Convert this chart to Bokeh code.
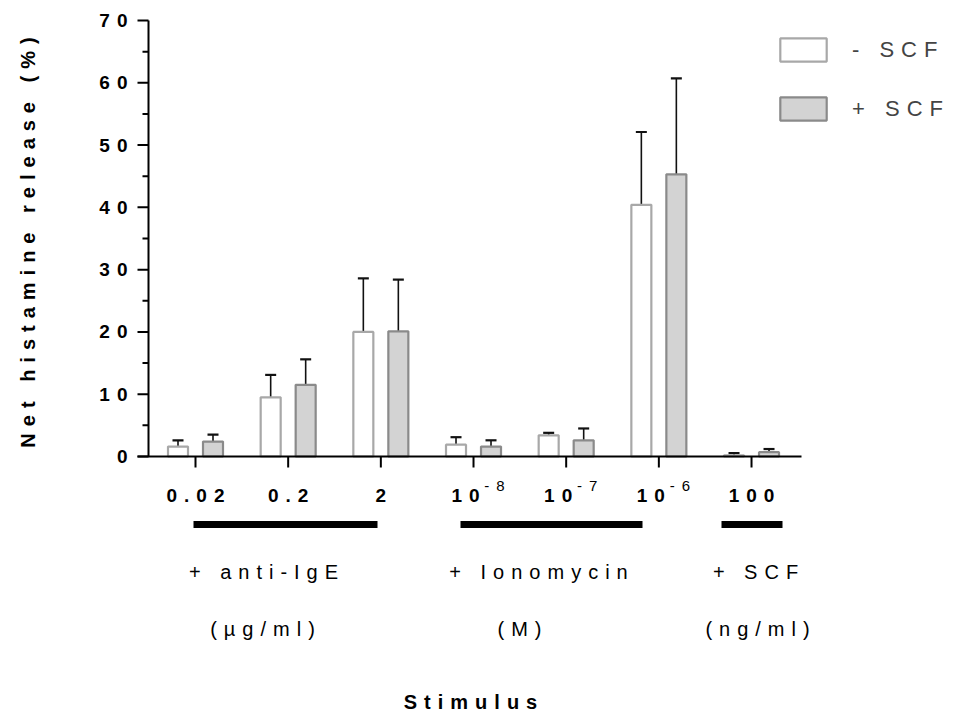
import math
from bokeh.plotting import figure
from bokeh.models import (ColumnDataSource, Range1d, Whisker, TeeHead, Legend,
                          LegendItem, InlineStyleSheet)
from bokeh.transform import dodge
from bokeh.core.properties import value
from bokeh.embed import file_html
from bokeh.resources import INLINE

# ---------------- data ----------------
doses = ["0.02", "0.2", "2", "10", "10", "10", "100"]
dose_exponents = ["", "", "", "-8", "-7", "-6", ""]
minus_scf = [1.6, 9.5, 20.0, 1.9, 3.4, 40.4, 0.2]
minus_scf_err = [1.0, 3.6, 8.6, 1.2, 0.4, 11.7, 0.35]
plus_scf = [2.4, 11.5, 20.1, 1.6, 2.6, 45.3, 0.7]
plus_scf_err = [1.1, 4.1, 8.3, 1.0, 1.9, 15.4, 0.5]
series = ["- SCF", "+ SCF"]
stimuli = ["+ anti-IgE", "+ Ionomycin", "+ SCF"]
stimulus_units = ["(\u00b5g/ml)", "(M)", "(ng/ml)"]
y_ticks = [0, 10, 20, 30, 40, 50, 60, 70]
y_minor_ticks = [5, 15, 25, 35, 45, 55, 65]
y_title = "Net histamine release (%)"
x_title = "Stimulus"

# ---------------- layout ----------------
W, H = 959, 716
PX_X = 92.67          # px per dose slot
PX_Y = 6.2286         # px per percent
ORIGIN_X = 195        # px of first dose slot
ORIGIN_Y = 456        # px (from top) of y = 0
LS = 7                # letter spacing (px), applied through CSS


def dx(px):
    return px / PX_X


def dy(px):
    return px / PX_Y


def sx(px_x):
    return (px_x - ORIGIN_X) / PX_X


def sy(px_y):
    return (ORIGIN_Y - px_y) / PX_Y


def centre_shift(t):
    # Bokeh centres the unspaced width; pull back the extra letter spacing
    return -LS * (len(t) - 1) / 2


FONT = "Liberation Sans"
css = InlineStyleSheet(css=":host { letter-spacing: %dpx; } text { letter-spacing: %dpx; }" % (LS, LS))

p = figure(width=W, height=H,
           x_range=Range1d(sx(0), sx(W)),
           y_range=Range1d(sy(H), sy(0)),
           output_backend="svg", toolbar_location=None,
           x_axis_location=None, y_axis_location=None,
           min_border=0, outline_line_color=None,
           stylesheets=[css])
p.xgrid.visible = False
p.ygrid.visible = False

idx = list(range(len(doses)))
src = ColumnDataSource(dict(
    x=idx,
    minus=minus_scf,
    plus=plus_scf,
    minus_top=[v + e for v, e in zip(minus_scf, minus_scf_err)],
    plus_top=[v + e for v, e in zip(plus_scf, plus_scf_err)],
))

OFF = dx(17.5)
BW = dx(20)
r_minus = p.vbar(x=dodge("x", -OFF, range=p.x_range), top="minus", bottom=0,
                 width=BW, source=src, fill_color="white",
                 line_color="#a8a8a8", line_width=2.2)
r_plus = p.vbar(x=dodge("x", OFF, range=p.x_range), top="plus", bottom=0,
                width=BW, source=src, fill_color="#d3d3d3",
                line_color="#8a8a8a", line_width=2.2)

for col_lo, col_hi, off in (("minus", "minus_top", -OFF), ("plus", "plus_top", OFF)):
    w = Whisker(source=src, base=dodge("x", off, range=p.x_range),
                lower=col_lo, upper=col_hi, line_color="#111111", line_width=1.6,
                upper_head=TeeHead(size=11, line_width=2.2, line_color="#111111"),
                lower_head=None)
    p.add_layout(w)

# ---------------- y axis ----------------
AXIS_X = sx(148)
p.segment(x0=[AXIS_X], y0=[0], x1=[AXIS_X], y1=[max(y_ticks)],
          line_color="black", line_width=2)
p.segment(x0=[AXIS_X - dx(11)] * len(y_ticks), y0=y_ticks,
          x1=[AXIS_X] * len(y_ticks), y1=y_ticks, line_color="black", line_width=2)
p.segment(x0=[AXIS_X - dx(6)] * len(y_minor_ticks), y0=y_minor_ticks,
          x1=[AXIS_X] * len(y_minor_ticks), y1=y_minor_ticks,
          line_color="black", line_width=2)
ytl = [str(t) for t in y_ticks]
ysrc = ColumnDataSource(dict(x=[AXIS_X] * len(y_ticks), y=y_ticks, text=ytl,
                             xo=[-21 - LS * (len(t) - 1) for t in ytl]))
p.text(x="x", y="y", text="text", x_offset="xo", source=ysrc,
       text_align="right", text_baseline="middle",
       text_font=value(FONT), text_font_style="bold", text_font_size="19px",
       text_color="black")
p.text(x=[sx(27)], y=[sy(242 - centre_shift(y_title))], text=[y_title],
       angle=math.pi / 2, text_align="center", text_baseline="middle",
       text_font=value(FONT), text_font_style="bold", text_font_size="20px",
       text_color="black")

# ---------------- x axis ----------------
p.segment(x0=[AXIS_X - dx(11)], y0=[0], x1=[sx(801)], y1=[0],
          line_color="black", line_width=2)
p.segment(x0=idx, y0=[0] * len(idx), x1=idx, y1=[-dy(11)] * len(idx),
          line_color="black", line_width=2)

lab_src = ColumnDataSource(dict(
    x=idx, y=[0] * len(idx), text=doses,
    xo=[(-8 if e else 0) + centre_shift(d) for d, e in zip(doses, dose_exponents)],
))
p.text(x="x", y="y", text="text", x_offset="xo", y_offset=39, source=lab_src,
       text_align="center", text_baseline="middle",
       text_font=value(FONT), text_font_style="bold", text_font_size="19px",
       text_color="black")
exps = [e for e in dose_exponents if e]
exp_src = ColumnDataSource(dict(
    x=[i for i, e in zip(idx, dose_exponents) if e],
    y=[0] * len(exps),
    text=exps,
    xo=[21 + centre_shift(e) for e in exps],
))
p.text(x="x", y="y", text="text", x_offset="xo", y_offset=29, source=exp_src,
       text_align="center", text_baseline="middle",
       text_font=value(FONT), text_font_size="15px", text_color="black")

# group bars and labels
bar_px = [(193, 377), (460, 642), (721, 782)]
p.segment(x0=[sx(a) for a, b in bar_px], y0=[sy(524)] * 3,
          x1=[sx(b) for a, b in bar_px], y1=[sy(524)] * 3,
          line_color="black", line_width=7)
stim_px = [263, 538, 755]
unit_px = [262, 519, 757]
stim_src = ColumnDataSource(dict(x=[sx(v) for v in stim_px], y=[sy(571)] * 3,
                                 text=stimuli, xo=[centre_shift(t) for t in stimuli]))
p.text(x="x", y="y", text="text", x_offset="xo", source=stim_src,
       text_align="center", text_baseline="middle",
       text_font=value(FONT), text_font_size="20px", text_color="black")
unit_src = ColumnDataSource(dict(x=[sx(v) for v in unit_px], y=[sy(628)] * 3,
                                 text=stimulus_units,
                                 xo=[centre_shift(t) for t in stimulus_units]))
p.text(x="x", y="y", text="text", x_offset="xo", source=unit_src,
       text_align="center", text_baseline="middle",
       text_font=value(FONT), text_font_size="20px", text_color="black")
p.text(x=[sx(470)], y=[sy(701)], text=[x_title], x_offset=centre_shift(x_title),
       text_align="center", text_baseline="middle",
       text_font=value(FONT), text_font_style="bold", text_font_size="20px",
       text_color="black")

# ---------------- legend ----------------
GW, GH = 58, 29   # legend glyph area (box drawn at 80 %)
legend = Legend(items=[LegendItem(label=series[0], renderers=[r_minus]),
                       LegendItem(label=series[1], renderers=[r_plus])],
                location=(774, H - 123), glyph_width=GW, glyph_height=GH,
                spacing=30, label_standoff=20, padding=0, margin=0,
                label_text_font=FONT, label_text_font_size="22px",
                border_line_color=None, background_fill_alpha=0)
p.add_layout(legend)

html = file_html(p, INLINE)
html = html.replace("</head>", "<style>body { letter-spacing: %dpx; }</style></head>" % LS, 1)
open("out.html", "w").write(html)
